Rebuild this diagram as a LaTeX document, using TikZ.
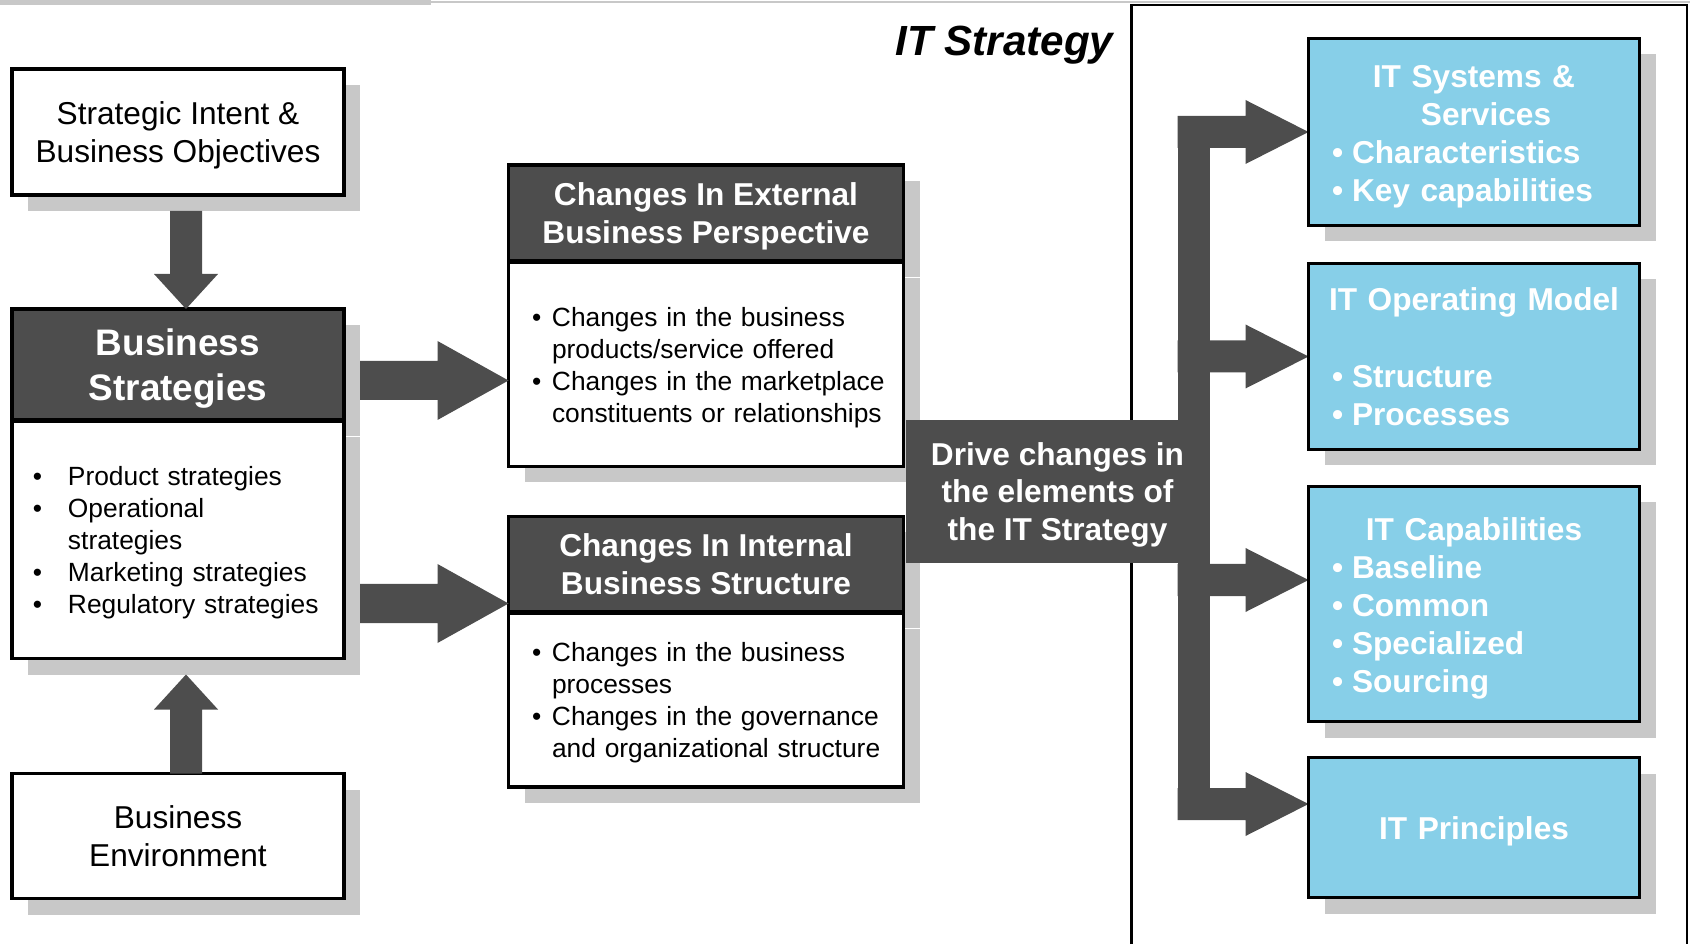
\documentclass[tikz,border=0pt]{standalone}
\usepackage{fontspec}
\setmainfont{Liberation Sans}
\usetikzlibrary{positioning, calc, shadows, backgrounds}
\definecolor{darkfill}{RGB}{77,77,77}
\definecolor{shadowgray}{RGB}{200,200,200}
\definecolor{itblue}{RGB}{135,207,232}

% bullet lines, continuation lines and centred titles in boxes with a text width
\newcommand{\bul}[2][0.2cm]{\par\noindent\hbox to\hsize{\makebox[#1][l]{\textbullet}#2\hss}}
\newcommand{\cont}[2][0.2cm]{\par\noindent\hbox to\hsize{\hspace*{#1}#2\hss}}
\newcommand{\ttl}[1]{\par\noindent\hbox to\hsize{\hss#1\hss}}
\newcommand{\padlast}{\par\vspace{0.07cm}}
% fat block arrow: start, tip, half shaft width, half head width, head length
\newcommand{\fatarrow}[5]{%
  \coordinate (hb) at ($(#2)!#5!(#1)$);
  \fill[arrowfill] ($(#1)!#3!90:(#2)$) -- ($(hb)!#3!90:(#2)$) -- ($(hb)!#4!90:(#2)$) -- (#2)
    -- ($(hb)!#4!-90:(#2)$) -- ($(hb)!#3!-90:(#2)$) -- ($(#1)!#3!-90:(#2)$) -- cycle;}

\tikzstyle{boxshadow} = [drop shadow={shadow xshift=0.16cm, shadow yshift=-0.16cm, fill=shadowgray, opacity=1}]
\tikzstyle{plainbox} = [rectangle, minimum width=3.32cm, inner sep=2pt, outer sep=0pt, align=center, text depth=0pt, draw=black, line width=0.9pt, fill=white, font=\fontsize{9}{10.7}\selectfont, boxshadow]
\tikzstyle{headbox} = [rectangle, inner sep=2pt, outer sep=0pt, align=center, text depth=0pt, draw=black, line width=0.9pt, fill=darkfill, text=white, font=\bfseries\fontsize{9}{10.8}\selectfont, boxshadow]
\tikzstyle{listbox} = [rectangle, inner sep=0pt, outer sep=0pt, draw=black, line width=0.9pt, fill=white, font=\fontsize{7.5}{9.1}\selectfont, execute at end node=\padlast, boxshadow]
\tikzstyle{itbox} = [rectangle, minimum width=3.31cm, text width=2.84cm, inner sep=0pt, outer sep=0pt, draw=black, line width=0.9pt, fill=itblue, text=white, font=\bfseries\fontsize{9}{10.8}\selectfont, execute at end node=\padlast, boxshadow]
\tikzstyle{drivebox} = [rectangle, minimum width=3.04cm, minimum height=1.43cm, inner sep=0pt, outer sep=0pt, align=center, text depth=0pt, fill=darkfill, text=white, font=\bfseries\fontsize{9}{10.7}\selectfont]
\tikzstyle{arrowfill} = [fill=darkfill]
\tikzstyle{frameline} = [draw=black, line width=0.7pt]
\tikzstyle{titletext} = [inner sep=0pt, font=\bfseries\itshape\fontsize{12}{14}\selectfont]

\begin{document}
\begin{tikzpicture}
\useasboundingbox (0,0) rectangle (16.9,9.44);
% top rule and IT strategy frame
\fill[shadowgray] (0,9.39) rectangle (4.31,9.44);
\draw[shadowgray, line width=0.6pt] (4.31,9.42) -- (16.9,9.42);
\draw[frameline] (11.315,0) |- (16.87,9.39) -- (16.87,0);
\node (title) [titletext, anchor=base east] at (11.14,8.88) {IT Strategy};

% business side
\node (sib) [plainbox, minimum height=1.26cm] at (1.78,8.12) {Strategic Intent \&\\ Business Objectives};
\node (bshead) [headbox, minimum width=3.32cm, minimum height=1.11cm, font=\bfseries\fontsize{10.5}{12.8}\selectfont, below=1.14cm of sib] {Business\\ Strategies};
\node (bsbody) [listbox, minimum width=3.32cm, minimum height=2.37cm, text width=2.9cm, below=0.015cm of bshead] {\bul[0.35cm]{Product strategies}\bul[0.35cm]{Operational}\cont[0.35cm]{strategies}\bul[0.35cm]{Marketing strategies}\bul[0.35cm]{Regulatory strategies}};
\node (be) [plainbox, minimum height=1.25cm, below=1.15cm of bsbody] {Business\\ Environment};

% changes
\node (exthead) [headbox, minimum width=3.95cm, minimum height=0.96cm, right=1.645cm of sib, yshift=-0.81cm] {Changes In External\\ Business Perspective};
\node (extbody) [listbox, minimum width=3.95cm, minimum height=2.04cm, text width=3.48cm, below=0.015cm of exthead] {\bul{Changes in the business}\cont{products/service offered}\bul{Changes in the marketplace}\cont{constituents or relationships}};
\node (inthead) [headbox, minimum width=3.95cm, minimum height=0.95cm, below=0.5cm of extbody] {Changes In Internal\\ Business Structure};
\node (intbody) [listbox, minimum width=3.95cm, minimum height=1.74cm, text width=3.48cm, below=0.015cm of inthead] {\bul{Changes in the business}\cont{processes}\bul{Changes in the governance}\cont{and organizational structure}};
\node (drive) [drivebox, anchor=west, xshift=0.02cm] at ($(extbody.south east)!0.5!(inthead.north east)$) {Drive changes in\\ the elements of\\ the IT Strategy};

% IT strategy elements
\node (it1) [itbox, minimum height=1.87cm] at (14.74,8.12) {\ttl{IT Systems \&}\ttl{\hspace{0.24cm}Services}\bul{Characteristics}\bul{Key capabilities}};
\node (it2) [itbox, minimum height=1.86cm, below=0.38cm of it1] {\ttl{IT Operating Model}\par\vspace{11pt}\bul{Structure}\bul{Processes}\par\vspace{0.08cm}};
\node (it3) [itbox, minimum height=2.35cm, below=0.37cm of it2] {\ttl{IT Capabilities}\bul{Baseline}\bul{Common}\bul{Specialized}\bul{Sourcing}};
\node (it4) [itbox, minimum height=1.4cm, below=0.36cm of it3] {\ttl{IT Principles}};

% arrows into Business Strategies
\coordinate (a1s) at ($(sib.south)+(0.08,-0.16)$);
\coordinate (a1t) at ($(bshead.north)+(0.08,0)$);
\fatarrow{a1s}{a1t}{0.16cm}{0.32cm}{0.35cm}
\coordinate (a2s) at ($(be.north)+(0.08,0)$);
\coordinate (a2t) at ($(bsbody.south)+(0.08,-0.16)$);
\fatarrow{a2s}{a2t}{0.16cm}{0.32cm}{0.35cm}

% arrows to the change boxes
\coordinate (a3t) at ($(extbody.west)+(0,-0.16)$);
\coordinate (a3s) at ($(bshead.east |- a3t)+(0.16,0)$);
\fatarrow{a3s}{a3t}{0.195cm}{0.395cm}{0.71cm}
\coordinate (a4t) at ($(inthead.south west)+(0,0.08)$);
\coordinate (a4s) at ($(bsbody.east |- a4t)+(0.16,0)$);
\fatarrow{a4s}{a4t}{0.195cm}{0.395cm}{0.71cm}

% bus from the drive block to the IT elements, behind the drive text
\coordinate (b1t) at (it1.west);
\coordinate (b2t) at (it2.west);
\coordinate (b3t) at ($(it3.west)+(0,0.24)$);
\coordinate (b4t) at ($(it4.west)+(0,0.235)$);
\coordinate (b1s) at ($(drive.east |- b1t)+(-0.32,0)$);
\coordinate (b2s) at ($(drive.east |- b2t)+(-0.32,0)$);
\coordinate (b3s) at ($(drive.east |- b3t)+(-0.32,0)$);
\coordinate (b4s) at ($(drive.east |- b4t)+(-0.32,0)$);
\begin{scope}[on background layer]
\fill[arrowfill] ($(b1s)+(0,0.16)$) rectangle ($(drive.east |- b4t)+(0,-0.16)$);
\fatarrow{b1s}{b1t}{0.16cm}{0.32cm}{0.63cm}
\fatarrow{b2s}{b2t}{0.16cm}{0.32cm}{0.63cm}
\fatarrow{b3s}{b3t}{0.16cm}{0.32cm}{0.63cm}
\fatarrow{b4s}{b4t}{0.16cm}{0.32cm}{0.63cm}
\end{scope}
\end{tikzpicture}
\end{document}
